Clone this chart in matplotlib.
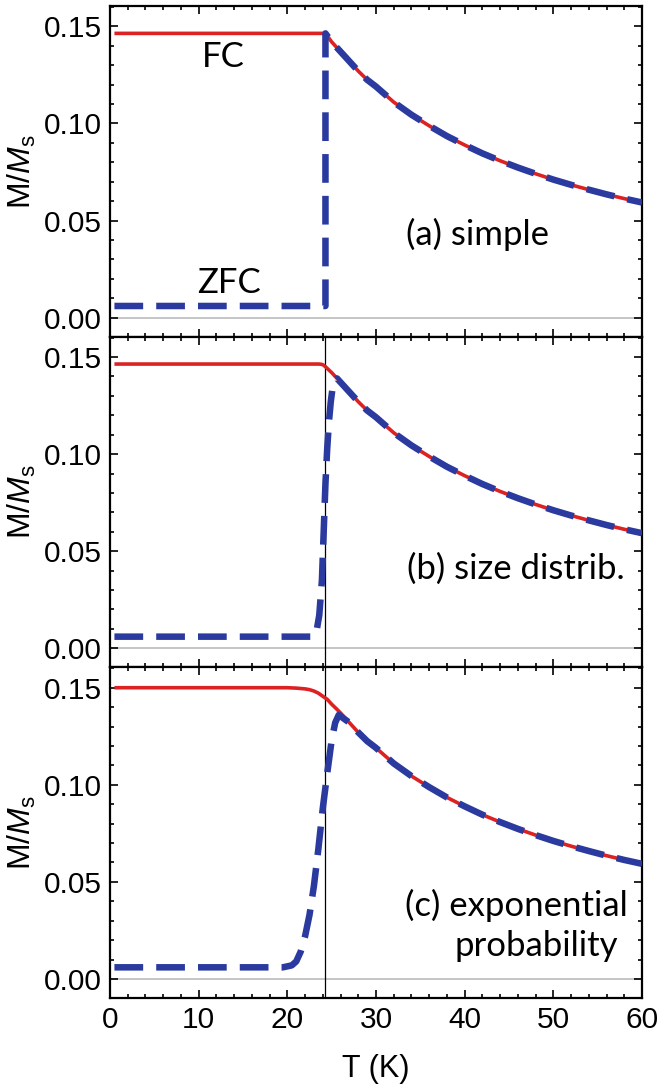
import matplotlib
matplotlib.use("Agg")
import matplotlib.pyplot as plt
from matplotlib.ticker import MultipleLocator

plt.rcParams['font.family'] = ['Liberation Sans', 'DejaVu Sans']
plt.rcParams['mathtext.fontset'] = 'custom'
plt.rcParams['mathtext.rm'] = 'Liberation Sans'
plt.rcParams['mathtext.it'] = 'Liberation Sans:italic'

# ---- data ----
T_B = 24.3
# common high-temperature (superparamagnetic) branch
T_decay = [24.3, 25, 26, 27, 28, 29, 30, 32, 34, 36, 38, 40, 42, 44, 46, 48, 50, 52, 54, 56, 58, 60]
M_decay = [0.1464, 0.142, 0.137, 0.132, 0.127, 0.1225, 0.119, 0.111, 0.1045, 0.0988, 0.0935,
           0.0889, 0.0846, 0.0808, 0.0773, 0.0741, 0.0711, 0.0684, 0.0659, 0.0635, 0.0613, 0.0593]

# (a) simple
fc_a_T = [0.5, 24.3] + T_decay[1:]
fc_a_M = [0.1464, 0.1464] + M_decay[1:]
zfc_a_T = [0.5, 24.3, 24.3] + T_decay[1:]
zfc_a_M = [0.006, 0.006, 0.1464] + M_decay[1:]

# (b) size distrib.
fc_b_T = [0.5, 23.6, 23.9, 24.1, 24.3, 24.6] + T_decay[1:]
fc_b_M = [0.1464, 0.1464, 0.1462, 0.1458, 0.1450, 0.1437] + M_decay[1:]
zfc_b_T = [0.5, 23.0, 23.3, 23.6, 23.9, 24.1, 24.3, 24.5, 24.7, 24.9, 25.1, 25.3, 25.6] + T_decay[2:]
zfc_b_M = [0.006, 0.006, 0.009, 0.017, 0.035, 0.060, 0.085, 0.103, 0.117, 0.127, 0.134, 0.138, 0.139] + M_decay[2:]

# (c) exponential probability
fc_c_T = [0.5, 20, 21, 22, 22.5, 23, 23.5, 24, 24.5, 25, 25.5] + T_decay[2:]
fc_c_M = [0.150, 0.150, 0.1498, 0.1494, 0.149, 0.1483, 0.1472, 0.1456, 0.1440, 0.1415, 0.1393] + M_decay[2:]
zfc_c_T = [0.5, 19.5, 20.5, 21.0, 21.5, 22.0, 22.5, 23.0, 23.5, 24.0, 24.5, 25.0, 25.4, 25.8] + T_decay[3:]
zfc_c_M = [0.006, 0.006, 0.007, 0.009, 0.014, 0.022, 0.033, 0.048, 0.067, 0.088, 0.106, 0.123, 0.132, 0.136] + M_decay[3:]

panels = [
    (fc_a_T, fc_a_M, zfc_a_T, zfc_a_M, False),
    (fc_b_T, fc_b_M, zfc_b_T, zfc_b_M, True),
    (fc_c_T, fc_c_M, zfc_c_T, zfc_c_M, True),
]

RED = '#dc2222'
BLUE = '#2a3a9f'

W, H = 666, 1088
fig = plt.figure(figsize=(W / 100, H / 100), dpi=100)
left, right = 110, 642
top, bottom = 6, 998
ph = (bottom - top) / 3.0
axes = []
for i, (ft, fm, zt, zm, vline) in enumerate(panels):
    y0 = top + i * ph
    ax = fig.add_axes([left / W, 1 - (y0 + ph) / H, (right - left) / W, ph / H])
    axes.append(ax)
    ax.axhline(0, color='#bbbbbb', lw=1.2, zorder=1)
    if vline:
        ax.axvline(T_B, color='black', lw=0.9, zorder=2)
    ax.plot(ft, fm, color=RED, lw=2.6, zorder=3, solid_capstyle='butt')
    ax.plot(zt, zm, color=BLUE, lw=4.7, zorder=4, dashes=(4.4, 2.0))
    ax.set_xlim(0, 60)
    ax.set_ylim(-0.0098, 0.1605)
    ax.xaxis.set_major_locator(MultipleLocator(10))
    ax.xaxis.set_minor_locator(MultipleLocator(2))
    ax.yaxis.set_major_locator(MultipleLocator(0.05))
    ax.yaxis.set_minor_locator(MultipleLocator(0.01))
    ax.tick_params(which='both', direction='in', top=True, right=True, width=1.2)
    ax.tick_params(which='major', length=5.5, labelsize=21.5, pad=6)
    ax.tick_params(which='minor', length=3)
    ax.yaxis.set_major_formatter(plt.FuncFormatter(lambda v, p: f"{v:.2f}"))
    for s in ax.spines.values():
        s.set_linewidth(1.6)
    ax.set_ylabel(r"M/$\mathit{M}_\mathrm{s}$", fontsize=23, labelpad=4)
    if i < 2:
        ax.tick_params(labelbottom=False)

axes[2].set_xlabel("T (K)", fontsize=22, labelpad=14)

tf = ['Lato', 'DejaVu Sans']
axes[0].text(12.8, 0.134, "FC", fontsize=25, family=tf, ha='center', va='center')
axes[0].text(13.4, 0.0176, "ZFC", fontsize=25, family=tf, ha='center', va='center')
axes[0].text(41.5, 0.043, "(a) simple", fontsize=25, family=tf, ha='center', va='center')
axes[1].text(58.0, 0.041, "(b) size distrib.", fontsize=25, family=tf, ha='right', va='center')
axes[2].text(58.4, 0.038, "(c) exponential", fontsize=25, family=tf, ha='right', va='center')
axes[2].text(57.3, 0.017, "probability", fontsize=25, family=tf, ha='right', va='center')

fig.savefig("out.png", dpi=100)
